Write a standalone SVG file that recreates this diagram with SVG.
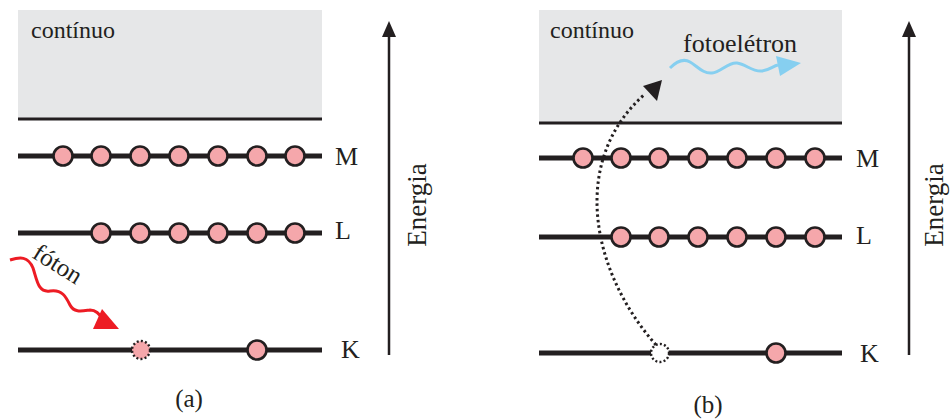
<svg xmlns="http://www.w3.org/2000/svg" width="951" height="420" viewBox="0 0 951 420">
<defs>
<style>
text{font-family:"Liberation Serif","Times New Roman",serif;fill:#231f20}
.lvl{stroke:#231f20;stroke-width:5}
.e{fill:#f5a7ab;stroke:#231f20;stroke-width:2.6}
.hole{fill:#f5a7ab;stroke:#231f20;stroke-width:2.4;stroke-dasharray:2 2.2}
.hole2{fill:#fff;stroke:#231f20;stroke-width:2.4;stroke-dasharray:2 2.2}
.axis{stroke:#231f20;stroke-width:2.5}
.head{fill:#231f20}
.cont{fill:#e6e7e8}
.lab{font-size:26px}
</style>
</defs>

<!-- Panel (a) -->
<g id="a-continuum">
<rect class="cont" x="18" y="10" width="304" height="109"/>
<line class="lvl" x1="18" y1="119" x2="322" y2="119" style="stroke-width:3"/>
<text x="31" y="38" font-size="24">contínuo</text>
</g>
<g id="a-M">
<line class="lvl" x1="18" y1="156" x2="322" y2="156"/>
<circle class="e" cx="63" cy="156" r="9.5"/><circle class="e" cx="101" cy="156" r="9.5"/><circle class="e" cx="140" cy="156" r="9.5"/><circle class="e" cx="179" cy="156" r="9.5"/><circle class="e" cx="218" cy="156" r="9.5"/><circle class="e" cx="257" cy="156" r="9.5"/><circle class="e" cx="295" cy="156" r="9.5"/>
<text class="lab" x="335" y="165">M</text>
</g>
<g id="a-L">
<line class="lvl" x1="18" y1="233" x2="322" y2="233"/>
<circle class="e" cx="101" cy="233" r="9.5"/><circle class="e" cx="140" cy="233" r="9.5"/><circle class="e" cx="179" cy="233" r="9.5"/><circle class="e" cx="218" cy="233" r="9.5"/><circle class="e" cx="257" cy="233" r="9.5"/><circle class="e" cx="295" cy="233" r="9.5"/>
<text class="lab" x="335" y="239">L</text>
</g>
<g id="a-K">
<line class="lvl" x1="18" y1="350" x2="322" y2="350"/>
<circle class="hole" cx="141" cy="350" r="9"/>
<circle class="e" cx="257" cy="350" r="9.5"/>
<text class="lab" x="341" y="358">K</text>
</g>
<g id="a-photon">
<path d="M10,260 C20,257 28,256 33,268 C37,280 38,293 50,291 C62,289 66,297 70,305 C74,313 82,311 90,310 C96,310 99,314 102,318" fill="none" stroke="#ed1c24" stroke-width="3"/>
<path d="M93,329 L102,309 L119,329 Z" fill="#ed1c24"/>
<text x="0" y="0" font-size="25" transform="translate(31,257) rotate(32)">fóton</text>
</g>
<g id="a-energy">
<line class="axis" x1="389" y1="355" x2="389" y2="34"/>
<path class="head" d="M382,37 L389,21 L396,37 Z"/>
<text x="0" y="0" font-size="27" text-anchor="middle" transform="translate(426,205) rotate(-90)">Energia</text>
</g>
<text x="189" y="407" font-size="25" text-anchor="middle">(a)</text>

<!-- Panel (b) -->
<g id="b-continuum">
<rect class="cont" x="539" y="10" width="303" height="113"/>
<line class="lvl" x1="539" y1="123" x2="842" y2="123" style="stroke-width:3"/>
<text x="550" y="38" font-size="24">contínuo</text>
<text x="683" y="52" font-size="26">fotoelétron</text>
</g>
<g id="b-M">
<line class="lvl" x1="539" y1="158" x2="842" y2="158"/>
<circle class="e" cx="583" cy="158" r="9.5"/><circle class="e" cx="621" cy="158" r="9.5"/><circle class="e" cx="659" cy="158" r="9.5"/><circle class="e" cx="698" cy="158" r="9.5"/><circle class="e" cx="737" cy="158" r="9.5"/><circle class="e" cx="776" cy="158" r="9.5"/><circle class="e" cx="815" cy="158" r="9.5"/>
<text class="lab" x="856" y="167">M</text>
</g>
<g id="b-L">
<line class="lvl" x1="539" y1="237" x2="842" y2="237"/>
<circle class="e" cx="621" cy="237" r="9.5"/><circle class="e" cx="659" cy="237" r="9.5"/><circle class="e" cx="698" cy="237" r="9.5"/><circle class="e" cx="737" cy="237" r="9.5"/><circle class="e" cx="776" cy="237" r="9.5"/><circle class="e" cx="815" cy="237" r="9.5"/>
<text class="lab" x="856" y="244">L</text>
</g>
<g id="b-K">
<line class="lvl" x1="539" y1="353" x2="842" y2="353"/>
<circle class="hole2" cx="660" cy="353" r="9"/>
<circle class="e" cx="776" cy="353" r="9.5"/>
<text class="lab" x="860" y="362">K</text>
</g>
<g id="connectors">
<path d="M656,345 C590,270 570,160 645,94" fill="none" stroke="#231f20" stroke-width="3" stroke-dasharray="2.5 3"/>
<path d="M643,86 L662,80 L657,101 Z" fill="#231f20"/>
<path d="M670,68 C676,62 683,58 690,62 C697,66 703,74 712,73 C721,72 728,62 737,63 C746,64 752,72 762,71 C770,70 773,66 778,65" fill="none" stroke="#86cff0" stroke-width="3"/>
<path d="M776,56 L801,63 L780,76 Z" fill="#86cff0"/>
</g>
<g id="b-energy">
<line class="axis" x1="909" y1="355" x2="909" y2="34"/>
<path class="head" d="M902,37 L909,21 L916,37 Z"/>
<text x="0" y="0" font-size="27" text-anchor="middle" transform="translate(943,205) rotate(-90)">Energia</text>
</g>
<text x="708" y="413" font-size="25" text-anchor="middle">(b)</text>
</svg>
